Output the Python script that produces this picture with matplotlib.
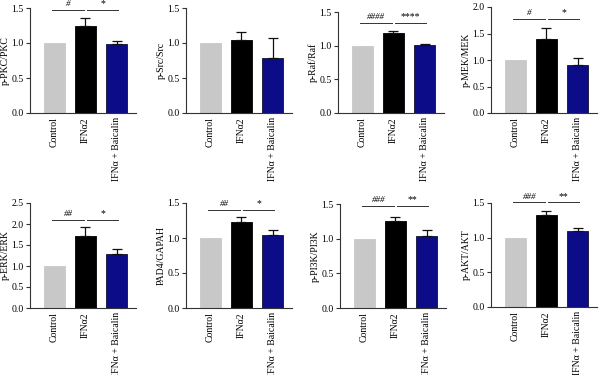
import matplotlib
matplotlib.use("Agg")
import matplotlib.pyplot as plt

plt.rcParams['font.family'] = ['Liberation Serif', 'DejaVu Serif']

groups = ["Control", "IFN\u03b12", "IFN\u03b1 + Baicalin"]
colors = ["#c8c8c8", "#000000", "#0c0c88"]
edges = ["#c8c8c8", "#000000", "#111133"]

ylabels = ["p-PKC/PKC", "p-Src/Src", "p-Raf/Raf", "p-MEK/MEK",
           "p-ERK/ERK", "PAD4/GAPAH", "p-PI3K/PI3K", "p-AKT/AKT"]
means = [
    [1.0, 1.25, 0.98],
    [1.0, 1.05, 0.78],
    [1.0, 1.19, 1.01],
    [1.0, 1.39, 0.91],
    [1.0, 1.72, 1.29],
    [1.0, 1.23, 1.05],
    [1.0, 1.26, 1.04],
    [1.0, 1.32, 1.09],
]
errors = [
    [0.0, 0.11, 0.05],
    [0.0, 0.11, 0.29],
    [0.0, 0.03, 0.02],
    [0.0, 0.22, 0.13],
    [0.0, 0.20, 0.11],
    [0.0, 0.07, 0.07],
    [0.0, 0.05, 0.08],
    [0.0, 0.06, 0.05],
]
ymax = [1.5, 1.5, 1.5, 2.0, 2.5, 1.5, 1.5, 1.5]
ystep = [0.5, 0.5, 0.5, 0.5, 0.5, 0.5, 0.5, 0.5]
sig_left = ["#", None, "####", "#", "##", "##", "###", "###"]
sig_right = ["*", None, "****", "*", "*", "*", "**", "**"]
sig_y = [1.47, None, 1.34, 1.77, 2.10, 1.40, 1.47, 1.51]

# layout in pixels (figure 600 x 375)
W, H = 600, 375
lefts = [30, 186, 338, 491, 30, 186, 340, 491]
bottoms = [113, 113, 113, 113, 308, 308, 308, 307]
tops = [8, 8, 12, 7, 203, 203, 204, 203]
width_px = 106

fig = plt.figure(figsize=(6, 3.75), dpi=100)
x = [0, 1, 2]
for i in range(8):
    l = lefts[i] / W
    b = 1 - bottoms[i] / H
    h = (bottoms[i] - tops[i]) / H
    ax = fig.add_axes([l, b, width_px / W, h])
    ax.bar(x, means[i], width=0.66, color=colors, edgecolor=edges, linewidth=0.6, zorder=2)
    ax.errorbar(x[1:], means[i][1:], yerr=[[0, 0], errors[i][1:]], fmt='none',
                ecolor="#111111", elinewidth=0.9, capsize=3.5, capthick=0.9, zorder=3)
    ax.set_xlim(-0.78, 2.62)
    ax.set_ylim(0, ymax[i])
    yt = [round(k * ystep[i], 2) for k in range(int(round(ymax[i] / ystep[i])) + 1)]
    ax.set_yticks(yt)
    ax.set_yticklabels([f"{v:.1f}" for v in yt], fontsize=7)
    ax.set_xticks(x)
    ax.set_xticklabels(groups, rotation=90, fontsize=7)
    ax.tick_params(axis='x', length=0, pad=3)
    ax.tick_params(axis='y', length=3, width=0.8, pad=1.5, color="#333333")
    ax.set_ylabel(ylabels[i], fontsize=7, labelpad=1)
    for s in ["top", "right"]:
        ax.spines[s].set_visible(False)
    for s in ["left", "bottom"]:
        ax.spines[s].set_linewidth(0.8)
        ax.spines[s].set_color("#333333")
    if sig_y[i] is not None:
        yy = sig_y[i]
        off = 0.04 * ymax[i]
        ax.plot([-0.08, 0.95], [yy, yy], color="#333333", lw=0.7, clip_on=False)
        ax.plot([1.05, 2.05], [yy, yy], color="#333333", lw=0.7, clip_on=False)
        ax.text(0.45, yy + off * 0.4, sig_left[i], ha="center", va="bottom",
                fontsize=6.5, style="italic", clip_on=False)
        ax.text(1.55, yy + off * 0.4, sig_right[i], ha="center", va="bottom",
                fontsize=7, clip_on=False)

fig.savefig("out.png", dpi=100)
